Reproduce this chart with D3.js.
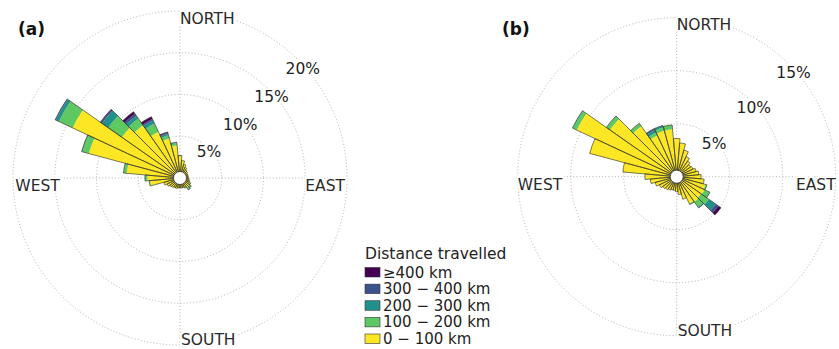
<!DOCTYPE html>
<html><head><meta charset="utf-8">
<script src="https://cdn.jsdelivr.net/npm/d3@7/dist/d3.min.js"></script>
<style>
body{margin:0;background:#fff}
text{font-family:"DejaVu Sans",sans-serif}
</style>
</head><body>
<svg id="chart" width="839" height="349"></svg>
<script>
// ---- data ----
const directions = [0,10,20,30,40,50,60,70,80,90,100,110,120,130,140,150,160,170,180,190,200,210,220,230,240,250,260,270,280,290,300,310,320,330,340,350];
const classLabels = ["0 \u2212 100 km","100 \u2212 200 km","200 \u2212 300 km","300 \u2212 400 km","\u2265400 km"];
const classColors = ["#fde725","#5ec962","#21918c","#3b528b","#440154"];
const cardinalLabels = ["NORTH","EAST","SOUTH","WEST"];
const legendTitle = "Distance travelled";

// panel (a): % of trips by direction, per distance class
const aYellow = [2.6,2.1,1.7,1.4,1.2,1.1,1.0,1.0,1.0,1.0,1.1,1.2,1.3,1.4,1.4,1.3,1.2,1.2,1.2,1.2,1.3,1.3,1.4,1.5,1.7,2.0,3.6,3.9,6.4,11.3,14.2,8.5,7.7,6.1,4.9,3.9];
const aGreen  = [0.1,0,0,0,0,0,0,0,0,0,0,0,0.1,0.2,0.25,0.05,0,0,0,0,0,0,0,0,0,0,0.1,0.3,0.4,0.8,1.8,2.0,1.0,1.1,0.4,0.3];
const aTeal   = [0,0,0,0,0,0,0,0,0,0,0,0,0,0.05,0.1,0,0,0,0,0,0,0,0,0,0,0,0,0,0,0.1,0.4,0.9,0.4,0.4,0.2,0.1];
const aBlue   = [0,0,0,0,0,0,0,0,0,0,0,0,0,0,0,0,0,0,0,0,0,0,0,0,0,0,0,0,0,0,0.1,0.2,0.3,0.2,0.1,0];
const aPurple = [0,0,0,0,0,0,0,0,0,0,0,0,0,0,0,0,0,0,0,0,0,0,0,0,0,0,0,0,0,0,0,0.05,0.3,0.3,0.1,0];
const aTicks = [5,10,15,20];

// panel (b)
const bYellow = [3.6,3.2,2.6,2.1,1.8,1.6,1.7,1.9,2.1,2.3,2.6,2.8,2.9,2.8,2.9,2.8,2.2,1.7,1.4,1.3,1.3,1.4,1.5,1.6,1.8,2.1,2.5,3.0,5.1,8.5,10.4,7.7,5.8,4.3,4.5,4.5];
const bGreen  = [0,0,0,0,0,0,0,0,0,0,0,0.15,0.5,0.9,0.6,0.1,0,0,0,0,0,0,0,0,0,0,0,0,0,0,0.4,0.4,0.35,0.3,0.3,0.4];
const bTeal   = [0,0,0,0,0,0,0,0,0,0,0,0,0.05,0.8,0.1,0,0,0,0,0,0,0,0,0,0,0,0,0,0,0,0.05,0,0,0.25,0.2,0];
const bBlue   = [0,0,0,0,0,0,0,0,0,0,0,0,0,0.3,0,0,0,0,0,0,0,0,0,0,0,0,0,0,0,0,0,0,0,0.15,0,0];
const bPurple = [0,0,0,0,0,0,0,0,0,0,0,0,0,0.3,0,0,0,0,0,0,0,0,0,0,0,0,0,0,0,0,0,0,0,0,0,0];
const bTicks = [5,10,15];

// ---- drawing ----
const svg = d3.select("#chart");
svg.append("rect").attr("width",839).attr("height",349).attr("fill","#fff");
const keys = ["y","g","t","b","p"];

function drawPanel(cfg){
  const g = svg.append("g").attr("transform",`translate(${cfg.cx},${cfg.cy})`);
  const R = cfg.R;
  const r = d3.scaleLinear().domain([0,cfg.max]).range([0,R]);
  const ang = d3.scaleLinear().domain([0,360]).range([0,2*Math.PI]);
  const grid = g.append("g");
  grid.selectAll("circle").data(cfg.ticks).join("circle")
    .attr("r",d=>r(d)).attr("fill","none").attr("stroke","#a8a8a8")
    .attr("stroke-width",0.9).attr("stroke-dasharray","1,2.2");
  grid.selectAll("line").data([0,90,180,270]).join("line")
    .attr("x1",0).attr("y1",0)
    .attr("x2",d=>R*Math.sin(ang(d))).attr("y2",d=>-R*Math.cos(ang(d)))
    .attr("stroke","#a8a8a8").attr("stroke-width",0.9).attr("stroke-dasharray","1,2.2");

  const rows = directions.map((d,i)=>({dir:d,y:cfg.s[0][i],g:cfg.s[1][i],t:cfg.s[2][i],b:cfg.s[3][i],p:cfg.s[4][i]}));
  const stacked = d3.stack().keys(keys)(rows);
  const hole = 6.5;
  const arc = d3.arc()
    .innerRadius(d=>Math.max(hole,r(d[0])))
    .outerRadius(d=>Math.max(hole,r(d[1])))
    .startAngle(d=>ang(d.data.dir-5)).endAngle(d=>ang(d.data.dir+5));
  const bars = g.append("g");
  stacked.forEach((layer,li)=>{
    bars.append("g").selectAll("path").data(layer).join("path")
      .attr("d",arc).attr("fill",classColors[li]);
  });
  const outline = d3.arc()
    .innerRadius(hole)
    .outerRadius(d=>Math.max(hole,r(d.y+d.g+d.t+d.b+d.p)))
    .startAngle(d=>ang(d.dir-5)).endAngle(d=>ang(d.dir+5));
  bars.append("g").selectAll("path").data(rows).join("path")
    .attr("d",outline).attr("fill","none").attr("stroke","#3b3b2a")
    .attr("stroke-width",0.8).attr("stroke-opacity",0.85);
  g.append("circle").attr("r",hole).attr("fill","#fff").attr("stroke","#333").attr("stroke-width",0.8);

  const la = 41.5*Math.PI/180;
  g.append("g").selectAll("text").data(cfg.ticks).join("text")
    .attr("x",d=>(r(d)-3)*Math.cos(la)).attr("y",d=>-(r(d)-3)*Math.sin(la))
    .attr("text-anchor","middle").attr("dominant-baseline","central")
    .attr("font-size",15.5).attr("fill","#222")
    .attr("stroke","#fff").attr("stroke-width",4).attr("paint-order","stroke")
    .text(d=>d+"%");

  const pos = [
    {x:0, y:-0.925*R, a:"start"},
    {x:0.75*R, y:13, a:"start"},
    {x:1, y:R, a:"start"},
    {x:-0.72*R, y:13, a:"end"}
  ];
  g.append("g").selectAll("text").data(cardinalLabels).join("text")
    .attr("x",(d,i)=>pos[i].x).attr("y",(d,i)=>pos[i].y)
    .attr("text-anchor",(d,i)=>pos[i].a)
    .attr("font-size",15.5).attr("fill","#2a2a2a")
    .attr("stroke","#fff").attr("stroke-width",4).attr("paint-order","stroke")
    .text(d=>d);

  svg.append("text").attr("x",cfg.tagX).attr("y",35)
    .attr("font-size",17).attr("font-weight","bold").attr("fill","#111")
    .text(cfg.tag);
}

drawPanel({cx:180, cy:178, R:167, max:20, ticks:aTicks, s:[aYellow,aGreen,aTeal,aBlue,aPurple], tag:"(a)", tagX:18});
drawPanel({cx:676.7, cy:176.7, R:159, max:15, ticks:bTicks, s:[bYellow,bGreen,bTeal,bBlue,bPurple], tag:"(b)", tagX:502});

// legend
const lg = svg.append("g").attr("transform","translate(365,0)");
lg.append("text").attr("x",0).attr("y",259).attr("font-size",15.5).attr("fill","#222").text(legendTitle);
const order = [4,3,2,1,0];
const ly = d3.scalePoint().domain(order).range([277.5,344]);
const items = lg.selectAll("g.item").data(order).join("g").attr("class","item")
  .attr("transform",d=>`translate(0,${ly(d)})`);
items.append("rect").attr("x",0).attr("y",-10).attr("width",15).attr("height",9.5)
  .attr("fill",d=>classColors[d]).attr("stroke","#333").attr("stroke-width",0.6);
items.append("text").attr("x",18).attr("y",0).attr("font-size",15).attr("fill","#222")
  .text(d=>classLabels[d]);
</script>
</body></html>
